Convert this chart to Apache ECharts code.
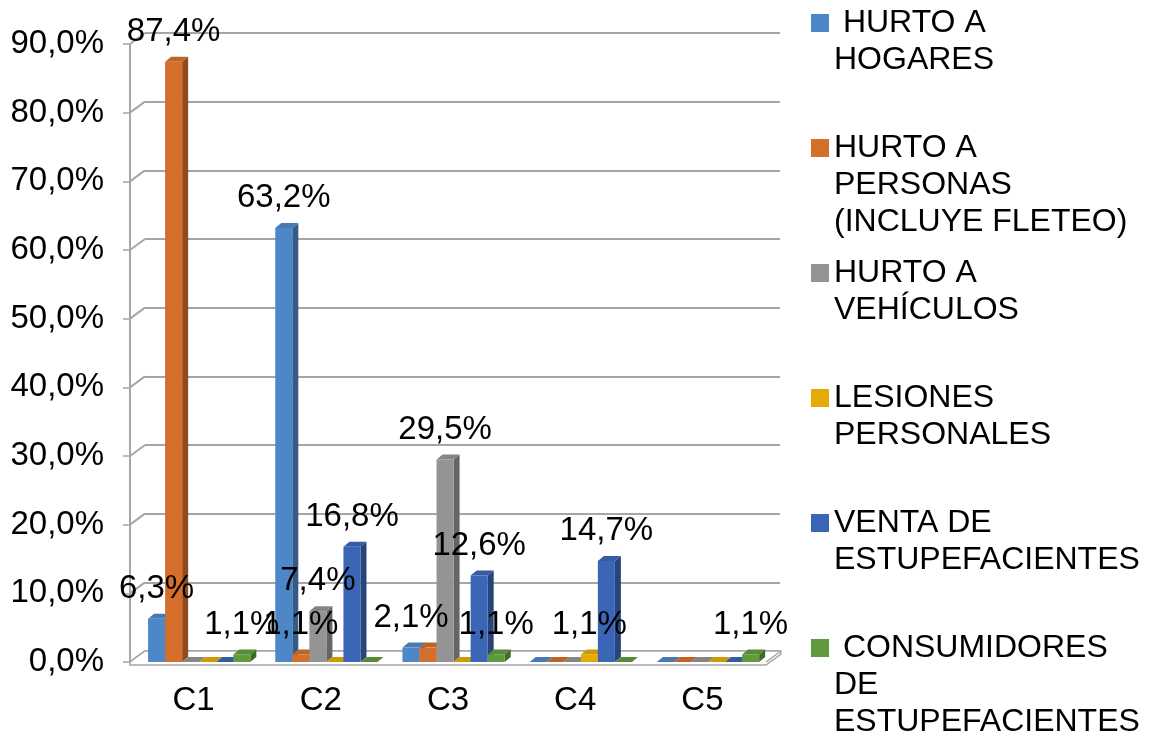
<!DOCTYPE html>
<html>
<head>
<meta charset="utf-8">
<script src="https://cdn.jsdelivr.net/npm/echarts@6/dist/echarts.min.js"></script>
<style>
  html, body { margin: 0; padding: 0; background: #fff; }
  #chart { width: 1155px; height: 731px; }
</style>
</head>
<body>
<div id="chart"></div>
<script>
var categories = ['C1', 'C2', 'C3', 'C4', 'C5'];
var yTicks = [0, 10, 20, 30, 40, 50, 60, 70, 80, 90];

// legend text, line by line, as in the original
var legendLines = [
	[' HURTO A', 'HOGARES'],
	['HURTO A', 'PERSONAS', '(INCLUYE FLETEO)'],
	['HURTO A', 'VEHÍCULOS'],
	['LESIONES', 'PERSONALES'],
	['VENTA DE', 'ESTUPEFACIENTES'],
	[' CONSUMIDORES', 'DE', 'ESTUPEFACIENTES']
];

// percent per category (C1..C5)
var hurtoHogares    = [6.3, 63.2, 2.1, 0, 0];
var hurtoPersonas   = [87.4, 1.1, 2.1, 0, 0];
var hurtoVehiculos  = [0, 7.4, 29.5, 0, 0];
var lesiones        = [0, 0, 0, 1.1, 0];
var ventaEstupef    = [0, 16.8, 12.6, 14.7, 0];
var consumidores    = [1.1, 0, 1.1, 0, 1.1];

var seriesValues = [hurtoHogares, hurtoPersonas, hurtoVehiculos, lesiones, ventaEstupef, consumidores];
var colors = ['#4e87c7', '#d46f2b', '#949494', '#e4aa05', '#3b65b5', '#5f9b3d'];
// [series, category] whose label is not printed in the original
var hiddenLabels = [[1, 2]];

var FONT = 'Liberation Sans, Arial, sans-serif';
var BAR_FR = 0.134, START_FR = 0.142, DX = 6, DY = 5;   // bar layout / 3d depth
var WALL_DX = 15, WALL_DY = 11;                          // back wall offset

var myChart = echarts.init(document.getElementById('chart'));

// multiply rgb by f (<1 darker)
function shade(hex, f) {
	var n = parseInt(hex.slice(1), 16);
	var r = Math.min(255, Math.round(((n >> 16) & 255) * f));
	var g = Math.min(255, Math.round(((n >> 8) & 255) * f));
	var b = Math.min(255, Math.round((n & 255) * f));
	return 'rgb(' + r + ',' + g + ',' + b + ')';
}

function barBox(api, cat, s, val) {
	var band = api.size([1, 0])[0];
	var base = api.coord([cat, 0]);
	var top = api.coord([cat, val]);
	var w = band * BAR_FR;
	return {
		x0: base[0] - band / 2 + band * START_FR + s * w,
		w: w,
		yTop: top[1],
		yBase: base[1]
	};
}

function makeBar(s) {
	return function(params, api) {
		var b = barBox(api, api.value(0), s, api.value(1));
		var c = colors[s];
		var x1 = b.x0 + b.w;
		return {
			type: 'group',
			children: [{
				type: 'polygon',
				shape: { points: [[x1, b.yTop], [x1 + DX, b.yTop - DY], [x1 + DX, b.yBase - DY], [x1, b.yBase]] },
				style: { fill: shade(c, 0.68) }
			}, {
				type: 'polygon',
				shape: { points: [[b.x0, b.yTop], [b.x0 + DX, b.yTop - DY], [x1 + DX, b.yTop - DY], [x1, b.yTop]] },
				style: { fill: shade(c, 0.9) }
			}, {
				type: 'rect',
				shape: { x: b.x0, y: b.yTop, width: b.w, height: b.yBase - b.yTop },
				style: { fill: c }
			}]
		};
	};
}

function renderWall(params, api) {
	var v = api.value(1);
	var band = api.size([1, 0])[0];
	var p = api.coord([0, v]);
	var xs = p[0] - band / 2;
	var xe = api.coord([categories.length - 1, v])[0] + band / 2;
	var kids = [{
		type: 'line',
		shape: { x1: xs, y1: p[1], x2: xs + WALL_DX, y2: p[1] - WALL_DY },
		style: { stroke: '#a6a6a6', lineWidth: 2 }
	}];
	if (v === 0) {
		kids.push({
			type: 'polygon',
			shape: { points: [[xs, p[1] + 3], [xs, p[1]], [xs + WALL_DX, p[1] - WALL_DY], [xe + WALL_DX, p[1] - WALL_DY], [xe + WALL_DX, p[1] - WALL_DY + 3], [xe, p[1] + 3]] },
			style: { fill: '#ffffff', stroke: '#a6a6a6', lineWidth: 1.5 }
		});
		kids.push({
			type: 'line',
			shape: { x1: xe, y1: p[1], x2: xe + WALL_DX, y2: p[1] - WALL_DY },
			style: { stroke: '#a6a6a6', lineWidth: 1.5 }
		});
	}
	return { type: 'group', children: kids };
}

function renderLabel(params, api) {
	var val = api.value(1);
	var b = barBox(api, api.value(0), api.value(2), val);
	return {
		type: 'text',
		style: {
			text: val.toFixed(1).replace('.', ',') + '%',
			x: b.x0 + b.w / 2,
			y: b.yTop - 30,
			align: 'center',
			verticalAlign: 'middle',
			fill: '#000',
			font: '33px ' + FONT
		}
	};
}

var seriesNames = legendLines.map(function(l) { return l.join(' ').trim(); });

var labelData = [];
seriesValues.forEach(function(vals, s) {
	vals.forEach(function(v, i) {
		var hidden = hiddenLabels.some(function(h) { return h[0] === s && h[1] === i; });
		if (v > 0 && !hidden) labelData.push([i, v, s]);
	});
});

var series = [{
	type: 'custom',
	name: 'wall',
	renderItem: renderWall,
	data: yTicks.map(function(t) { return [0, t]; }),
	silent: true,
	z: 1
}];
seriesValues.forEach(function(vals, s) {
	series.push({
		type: 'custom',
		name: seriesNames[s],
		renderItem: makeBar(s),
		data: vals.map(function(v, i) { return [i, v]; }),
		itemStyle: { color: colors[s] },
		z: 3
	});
});
series.push({
	type: 'custom',
	name: 'labels',
	renderItem: renderLabel,
	data: labelData,
	silent: true,
	z: 10
});

// one legend per entry so the square sits on the first text line
var LH = 37;
var legends = legendLines.map(function(lines, k) {
	var n = lines.length;
	var pad = [];
	for (var i = 1; i < n; i++) pad.push('');
	return {
		orient: 'vertical',
		left: 806,
		top: 18 + k * 125 - (2 * n - 1) * LH / 2,
		data: [seriesNames[k]],
		icon: 'rect',
		itemWidth: 18,
		itemHeight: 18,
		selectedMode: false,
		formatter: function() { return pad.concat(lines).join('\n'); },
		textStyle: { fontSize: 32, lineHeight: LH, color: '#000', fontFamily: FONT }
	};
});

var option = {
	animation: false,
	color: colors,
	legend: legends,
	grid: [
		{ left: 130, right: 389, top: 44, bottom: 69 },
		{ left: 145, right: 375, top: 33, bottom: 80 }
	],
	xAxis: [{
		type: 'category',
		gridIndex: 0,
		data: categories,
		axisLine: { lineStyle: { color: '#a6a6a6', width: 2 } },
		axisTick: { length: 12, lineStyle: { color: '#a6a6a6', width: 1.5 } },
		axisLabel: { fontSize: 33, color: '#000', fontFamily: FONT, margin: 22 }
	}, {
		type: 'category',
		gridIndex: 1,
		data: categories,
		show: false
	}],
	yAxis: [{
		type: 'value',
		gridIndex: 0,
		min: 0,
		max: 90,
		interval: 10,
		axisLine: { show: true, lineStyle: { color: '#a6a6a6', width: 2 } },
		axisTick: { show: true, length: 7, lineStyle: { color: '#a6a6a6', width: 1.5 } },
		splitLine: { show: false },
		axisLabel: {
			fontSize: 33, color: '#000', fontFamily: FONT, margin: 26,
			formatter: function(v) { return v.toFixed(1).replace('.', ',') + '%'; }
		}
	}, {
		type: 'value',
		gridIndex: 1,
		min: 0,
		max: 90,
		interval: 10,
		axisLine: { show: false },
		axisTick: { show: false },
		axisLabel: { show: false },
		splitLine: { show: true, lineStyle: { color: '#a6a6a6', width: 2 } }
	}],
	series: series
};
myChart.setOption(option);
</script>
</body>
</html>
